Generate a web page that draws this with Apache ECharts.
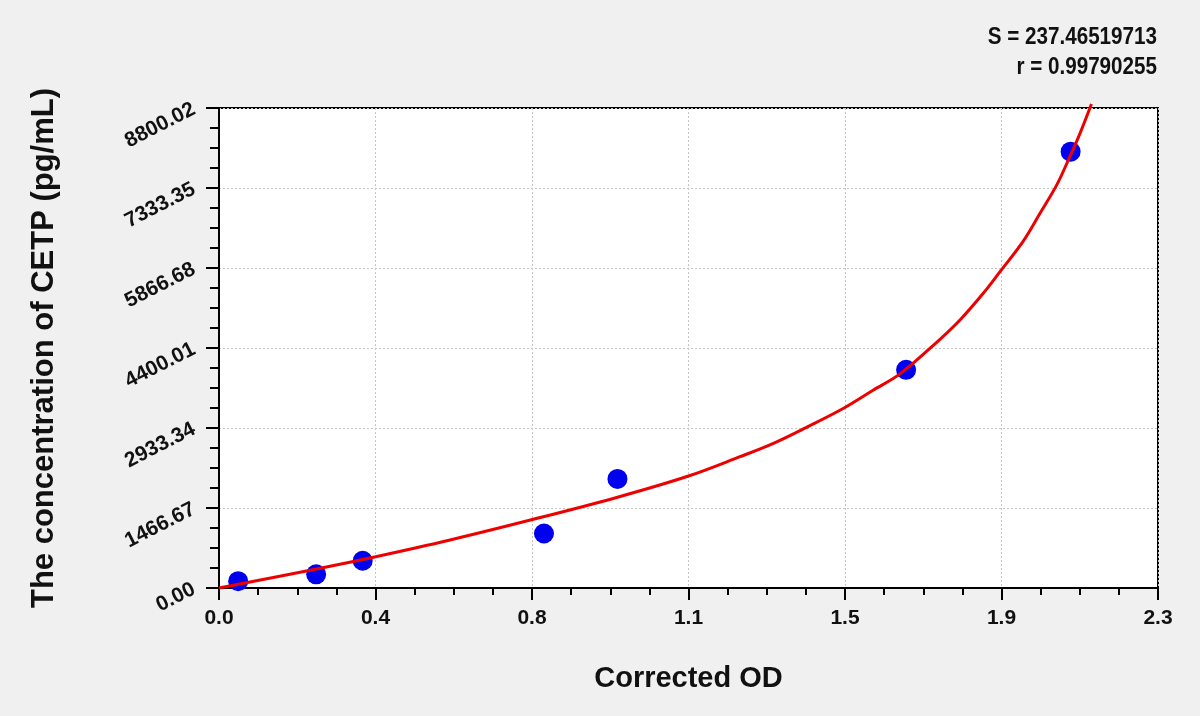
<!DOCTYPE html>
<html>
<head>
<meta charset="utf-8">
<script src="https://cdn.jsdelivr.net/npm/echarts@6/dist/echarts.min.js"></script>
<style>
html,body{margin:0;padding:0;background:#f0f0f0;}
#chart{width:1200px;height:716px;}
</style>
</head>
<body>
<div id="chart"></div>
<script>
// Standard points (Corrected OD vs concentration)
const pointOD = [0.047, 0.238, 0.352, 0.796, 0.976, 1.683, 2.086];
const pointConc = [125, 250, 500, 1000, 2000, 4000, 8000];
// Fitted curve
const curveOD = [0, 0.239, 0.384, 0.566, 0.770, 0.974, 1.150, 1.276, 1.358, 1.439, 1.531, 1.603, 1.668, 1.766, 1.815, 1.872, 1.913, 1.970, 2.011, 2.052, 2.084, 2.109, 2.137];
const curveConc = [0, 350, 574, 880, 1259, 1660, 2053, 2407, 2653, 2946, 3300, 3630, 3925, 4560, 4913, 5403, 5799, 6360, 6870, 7390, 7907, 8336, 8873];
// Tick labels
const xTickLabels = ['0.0', '0.4', '0.8', '1.1', '1.5', '1.9', '2.3'];
const yTickLabels = ['0.00', '1466.67', '2933.34', '4400.01', '5866.68', '7333.35', '8800.02'];
const statLines = ['S = 237.46519713', 'r = 0.99790255'];

const font = 'Liberation Sans, Arial, sans-serif';
const chart = echarts.init(document.getElementById('chart'));
chart.setOption({
  backgroundColor: '#f0f0f0',
  animation: false,
  grid: {
    left: 219, right: 42, top: 108, bottom: 128,
    show: true, backgroundColor: '#ffffff', borderColor: '#000000', borderWidth: 2,
    outerBoundsMode: 'none'
  },
  xAxis: {
    type: 'value', min: 0, max: 2.3, interval: 2.3 / 6,
    name: 'Corrected OD', nameLocation: 'middle', nameGap: 76,
    nameTextStyle: { fontFamily: font, fontWeight: 'bold', fontSize: 29, color: '#111' },
    axisLine: { show: true, onZero: false, lineStyle: { color: '#000', width: 2 } },
    axisTick: { show: true, inside: false, length: 12, lineStyle: { color: '#000', width: 2 } },
    minorTick: { show: true, splitNumber: 4, length: 7, lineStyle: { color: '#000', width: 2 } },
    axisLabel: {
      margin: 20, fontFamily: font, fontWeight: 'bold', fontSize: 21, color: '#111',
      formatter: (v, i) => xTickLabels[i]
    },
    splitLine: { show: true, lineStyle: { color: '#c4c4c4', type: [2, 2], width: 1 } }
  },
  yAxis: {
    type: 'value', min: 0, max: 8800.02, interval: 1466.67,
    name: 'The concentration of CETP (pg/mL)', nameLocation: 'middle', nameGap: 159,
    nameTextStyle: { fontFamily: font, fontWeight: 'bold', fontSize: 31, color: '#111' },
    axisLine: { show: true, onZero: false, lineStyle: { color: '#000', width: 2 } },
    axisTick: { show: true, inside: false, length: 13, lineStyle: { color: '#000', width: 2 } },
    minorTick: { show: true, splitNumber: 4, length: 9, lineStyle: { color: '#000', width: 2 } },
    axisLabel: {
      margin: 25, rotate: 27, fontFamily: font, fontWeight: 'bold', fontSize: 21, color: '#111',
      formatter: (v, i) => yTickLabels[i]
    },
    splitLine: { show: true, lineStyle: { color: '#c4c4c4', type: [2, 2], width: 1 } }
  },
  graphic: [
    { type: 'text', x: 1157, y: 25, scaleX: 0.86, style: { text: statLines[0], font: 'bold 24px ' + font, fill: '#111', textAlign: 'right', textVerticalAlign: 'top' } },
    { type: 'text', x: 1157, y: 55, scaleX: 0.86, style: { text: statLines[1], font: 'bold 24px ' + font, fill: '#111', textAlign: 'right', textVerticalAlign: 'top' } }
  ],
  series: [
    {
      type: 'scatter', symbol: 'circle', symbolSize: 20, z: 2,
      itemStyle: { color: '#0000ee', opacity: 1 },
      data: pointOD.map((x, i) => [x, pointConc[i]])
    },
    {
      type: 'line', smooth: 0.35, showSymbol: false, clip: false, z: 3,
      lineStyle: { color: '#ee0000', width: 3 },
      data: curveOD.map((x, i) => [x, curveConc[i]])
    }
  ]
});
</script>
</body>
</html>
